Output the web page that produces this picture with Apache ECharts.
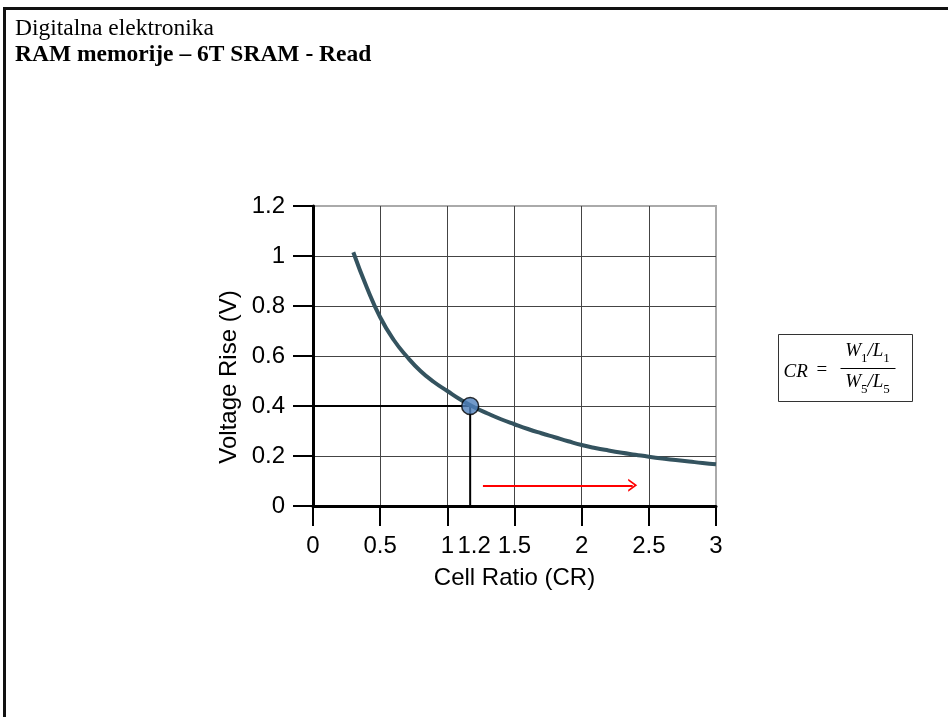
<!DOCTYPE html>
<html>
<head>
<meta charset="utf-8">
<script src="https://cdn.jsdelivr.net/npm/echarts@6/dist/echarts.min.js"></script>
<style>
  html, body { margin: 0; padding: 0; background: #fff; }
  #chart { width: 948px; height: 717px; }
</style>
</head>
<body>
<div id="chart"></div>
<script>
// curve, every 0.1 of CR
const curveX = [0.3, 0.4, 0.5, 0.6, 0.7, 0.8, 0.9, 1.0, 1.1, 1.2, 1.3, 1.4, 1.5, 1.6, 1.7, 1.8, 1.9, 2.0,
  2.1, 2.2, 2.3, 2.4, 2.5, 2.6, 2.7, 2.8, 2.9, 3.0];
const curveY = [1.015, 0.875, 0.755, 0.665, 0.597, 0.54, 0.496, 0.46, 0.425, 0.395, 0.37, 0.347, 0.327, 0.308,
  0.291, 0.275, 0.259, 0.244, 0.232, 0.222, 0.213, 0.205, 0.197, 0.19, 0.184, 0.178, 0.172, 0.167];

// highlighted point and its guide lines
const pointCR = 1.17;
const pointV = 0.4;

// red arrow (from, to) at height arrowV
const arrowFrom = 1.265;
const arrowTo = 2.38;
const arrowV = 0.083;

const xTicks = [0, 0.5, 1, 1.5, 2, 2.5, 3];
const xLabels = [0, 0.5, 1, 1.2, 1.5, 2, 2.5, 3];

const chart = echarts.init(document.getElementById("chart"));

const gridColors = ["#444", "#444", "#444", "#444", "#444", "#444", "#aaa"];
const font = "Liberation Sans";
const serif = "Liberation Serif";

const fracRich = {
  i: { fontFamily: serif, fontStyle: "italic", fontSize: 19, fill: "#000", verticalAlign: "top", lineHeight: 24 },
  s: { fontFamily: serif, fontSize: 13, fill: "#000", verticalAlign: "bottom", lineHeight: 24 },
};

const option = {
  animation: false,
  title: {
    left: 10,
    top: 12,
    itemGap: 2,
    text: "Digitalna elektronika",
    subtext: "RAM memorije \u2013 6T SRAM - Read",
    textStyle: { fontFamily: serif, fontWeight: "normal", fontSize: 23.5, color: "#000" },
    subtextStyle: { fontFamily: serif, fontWeight: "bold", fontSize: 23.5, color: "#000" },
  },
  grid: {
    left: 313,
    right: 232,
    top: 206,
    bottom: 211,
    show: true,
    borderColor: "#aaa",
    borderWidth: 2,
  },
  xAxis: {
    type: "value",
    min: 0,
    max: 3,
    interval: 0.5,
    name: "Cell Ratio (CR)",
    nameLocation: "middle",
    nameGap: 60,
    nameTextStyle: { fontFamily: font, fontSize: 24, color: "#000" },
    axisLine: { show: true, lineStyle: { color: "#000", width: 3 } },
    axisTick: { show: true, length: 20, customValues: xTicks, lineStyle: { color: "#000", width: 2 } },
    axisLabel: { customValues: xLabels, fontFamily: font, fontSize: 24, color: "#000", margin: 28 },
    splitLine: { show: true, lineStyle: { color: gridColors, width: 1 } },
  },
  yAxis: {
    type: "value",
    min: 0,
    max: 1.2,
    interval: 0.2,
    name: "Voltage Rise (V)",
    nameLocation: "middle",
    nameGap: 72,
    nameTextStyle: { fontFamily: font, fontSize: 24, color: "#000", padding: [0, 42, 0, 0] },
    axisLine: { show: true, lineStyle: { color: "#000", width: 3 } },
    axisTick: { show: true, length: 20, lineStyle: { color: "#000", width: 2 } },
    axisLabel: { fontFamily: font, fontSize: 24, color: "#000", margin: 28 },
    splitLine: { show: true, lineStyle: { color: gridColors, width: 1 } },
  },
  graphic: [
    // slide frame
    { type: "line", shape: { x1: 4.5, y1: 8.5, x2: 4.5, y2: 717 }, style: { stroke: "#111", lineWidth: 3 } },
    { type: "line", shape: { x1: 3, y1: 8.5, x2: 948, y2: 8.5 }, style: { stroke: "#111", lineWidth: 3 } },
    // CR formula box
    {
      type: "group",
      left: 778,
      top: 334,
      children: [
        { type: "rect", shape: { x: 0, y: 0, width: 134, height: 67 }, style: { fill: "#fff", stroke: "#333", lineWidth: 1 } },
        {
          type: "text", x: 5, y: 37,
          style: { text: "CR", font: "italic 19px 'Liberation Serif'", fill: "#000", verticalAlign: "middle" },
        },
        {
          type: "text", x: 38, y: 36,
          style: { text: "=", font: "19px 'Liberation Serif'", fill: "#000", verticalAlign: "middle" },
        },
        {
          type: "text", x: 89, y: 19,
          style: { text: "{i|W}{s|1}{i|/L}{s|1}", align: "center", verticalAlign: "middle", rich: fracRich },
        },
        { type: "line", shape: { x1: 62, y1: 34, x2: 117, y2: 34 }, style: { stroke: "#000", lineWidth: 1 } },
        {
          type: "text", x: 89, y: 50,
          style: { text: "{i|W}{s|5}{i|/L}{s|5}", align: "center", verticalAlign: "middle", rich: fracRich },
        },
      ],
    },
  ],
  series: [
    {
      name: "guides",
      type: "line",
      data: [[0, pointV], [pointCR, pointV], [pointCR, 0]],
      showSymbol: false,
      lineStyle: { color: "#000", width: 2 },
      z: 3,
      markLine: {
        silent: true,
        symbol: ["none", "path://M0,10 L5,0 L10,10 L8.4,10 L5,3.2 L1.6,10 Z"],
        symbolSize: [13, 9],
        label: { show: false },
        lineStyle: { color: "#f00", width: 2, type: "solid" },
        data: [[{ coord: [arrowFrom, arrowV] }, { coord: [arrowTo, arrowV] }]],
      },
    },
    {
      name: "curve",
      type: "line",
      data: curveX.map((x, i) => [x, curveY[i]]),
      smooth: true,
      showSymbol: false,
      lineStyle: { color: "#34535f", width: 4 },
      z: 4,
    },
    {
      name: "point",
      type: "scatter",
      data: [[pointCR, pointV]],
      symbolSize: 17,
      itemStyle: { color: "#4f81bd", borderColor: "#000", borderWidth: 1.5 },
      z: 5,
    },
  ],
};

chart.setOption(option);
</script>
</body>
</html>
